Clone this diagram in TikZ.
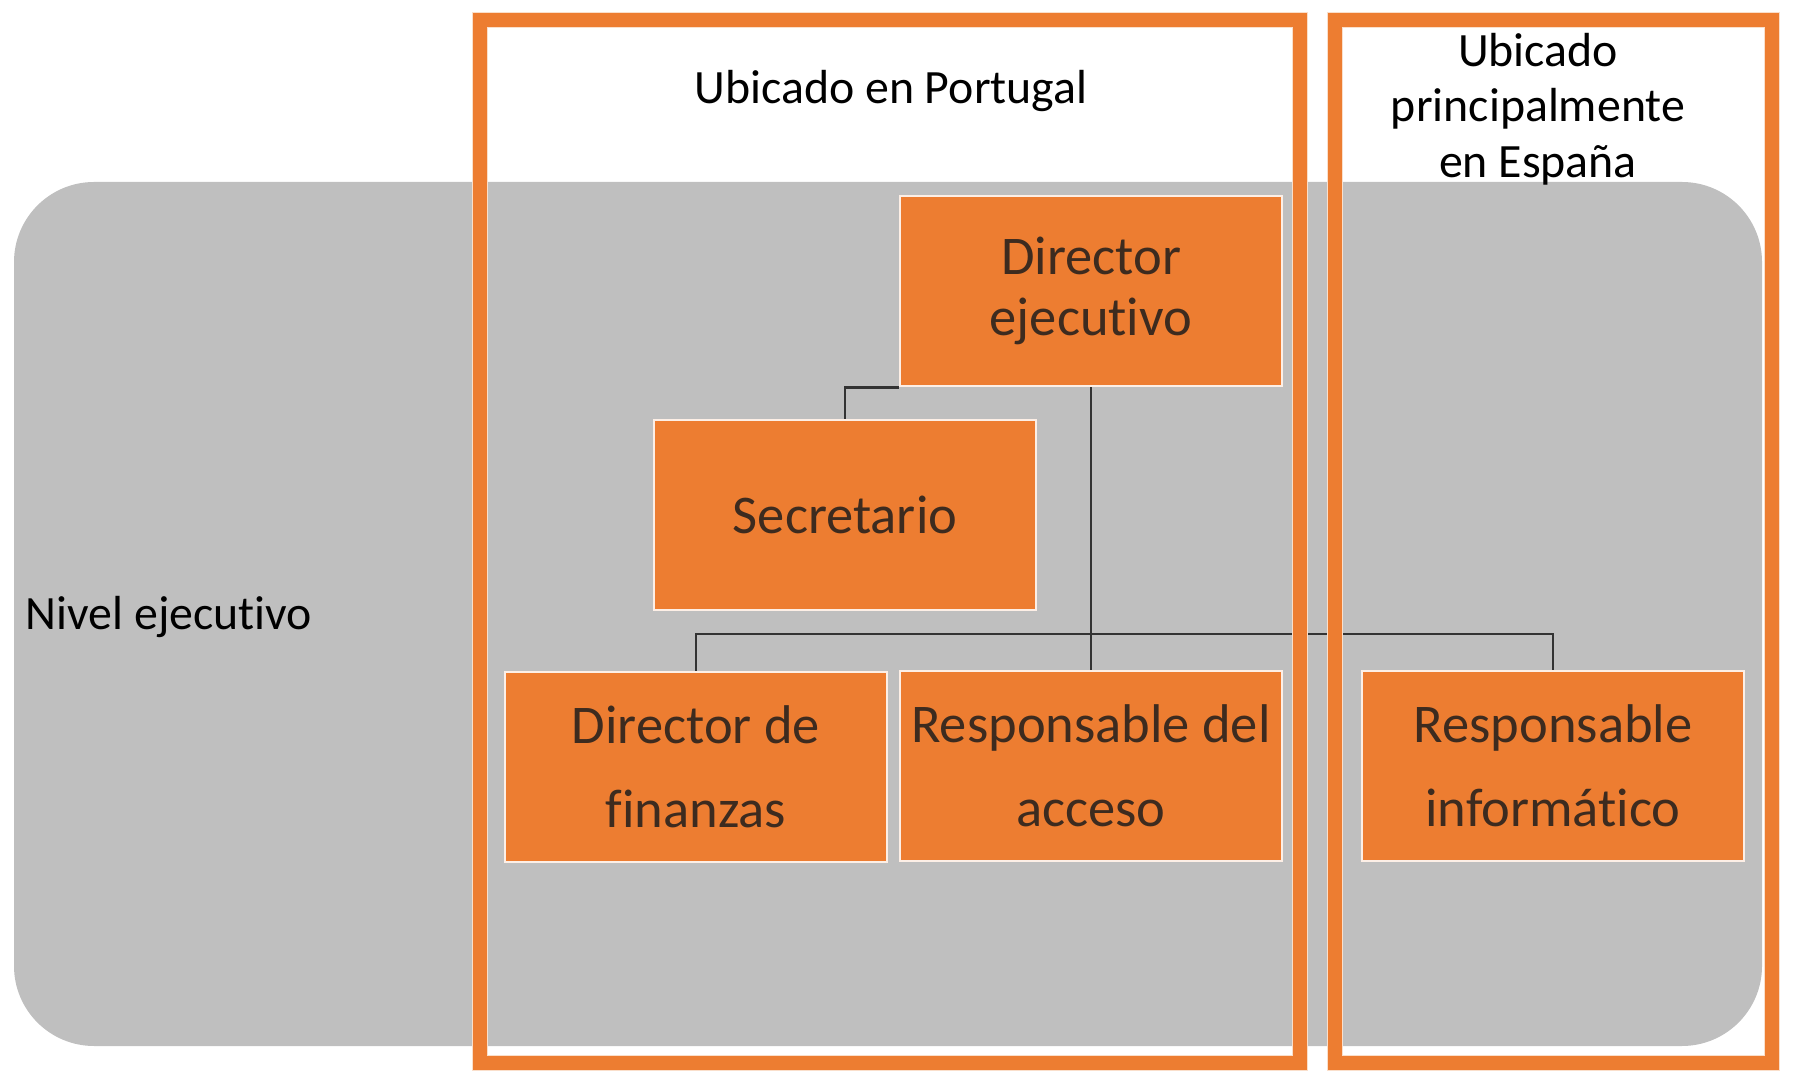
\documentclass[tikz,border=0pt]{standalone}
\usepackage{fontspec}
\setmainfont{Carlito}[Ligatures=NoCommon]
\definecolor{OrgOrange}{HTML}{ED7D31}
\definecolor{OrgGray}{HTML}{BFBFBF}
\definecolor{OrgText}{HTML}{3D2B1F}
\definecolor{OrgLine}{HTML}{333333}
\usepackage{tikz}

\begin{document}
\begin{tikzpicture}[x=0.01cm, y=-0.01cm,
    unit/.style={rectangle, draw=OrgOrange!12!white, line width=0.7pt, fill=OrgOrange,
      minimum width=3.82cm, minimum height=1.9cm, inner sep=0pt, align=center,
      text=OrgText, font=\fontsize{15.5}{24}\selectfont},
    frame/.style={draw=OrgOrange, line width=4pt,
      preaction={draw=OrgOrange!25, line width=4.8pt}},
    link/.style={draw=OrgLine, line width=0.7pt},
    lbl/.style={font=\fontsize{13.6}{15.8}\selectfont, text=black, inner sep=0pt, align=center}]
  \useasboundingbox (0,0) rectangle (1794,1086);
  % executive level band
  \fill[OrgGray, rounded corners=0.8cm] (14,182) rectangle (1762,1046);
  \node[lbl, anchor=base west] (level) at (25,630) {Nivel ejecutivo};
  \node[lbl, anchor=base] (pt) at (891,104) {Ubicado en Portugal};
  \node[lbl] (es) at (1538,109) {Ubicado\\principalmente\\en España};
  % units
  \node[unit, font=\fontsize{15.5}{17.5}\selectfont] (dir) at (1091,291) {Director\\ejecutivo};
  \node[unit] (sec) at (845,515) {Secretario};
  \node[unit] (fin) at (696,767) {Director de\\finanzas};
  \node[unit] (acc) at (1091,766) {Responsable del\\acceso};
  \node[unit] (inf) at (1553,766) {Responsable\\informático};
  \coordinate (bus) at (1091,634);
  \draw[link] (dir.south west) -| (sec.north);
  \draw[link] (dir.south) -- (acc.north);
  \draw[link] (fin.north) |- (bus) -| (inf.north);
  % location frames
  \draw[frame] (480,20) rectangle (1300,1063);
  \draw[frame] (1335,20) rectangle (1772,1063);
\end{tikzpicture}
\end{document}
